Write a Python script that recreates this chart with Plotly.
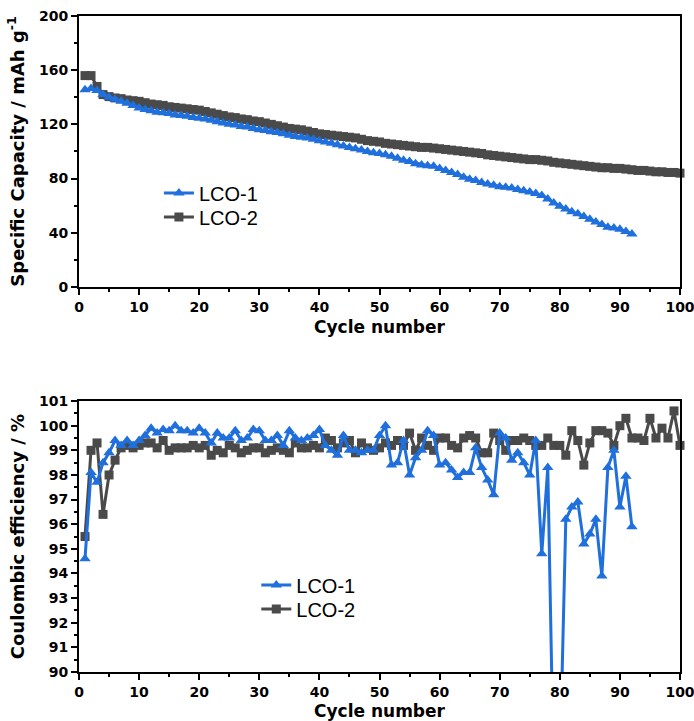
import plotly.graph_objects as go

# ---------------- data ----------------
cycles_lco1 = list(range(1, 93))
cycles_lco2 = list(range(1, 101))

cap_lco1 = [145.5, 146.5, 145, 142, 140, 138.5, 137, 135.5, 134, 132,
            131, 130, 129, 128.5, 128, 127, 126.5, 126, 125, 124.5,
            124, 123, 122, 121, 120, 119.5, 118.5, 118, 117, 116,
            115.5, 114.5, 114, 113, 112, 111, 110.5, 110, 109, 108,
            107, 106, 105, 104, 103, 102, 101, 100, 99, 98.5,
            97.5, 96.5, 95, 93.5, 92.5, 91, 90, 89.5, 89, 87.5,
            86, 84.5, 83, 81, 79.5, 78.5, 77, 76, 75, 74,
            73.5, 73, 72, 71, 70, 69, 67.5, 65, 62, 59.5,
            57.5, 55.5, 54, 52, 50, 48, 46, 44, 43.5, 42.5,
            41, 39]

cap_lco2 = [156, 156, 148, 142, 140.5, 139.5, 139, 138, 137.5, 137,
            136, 135, 134.5, 134, 133, 132.5, 132, 131.5, 131, 130.5,
            129.5, 128.5, 127.5, 126.5, 125.5, 125, 124, 123.5, 122.5, 122,
            121, 120, 119, 118, 117, 116.5, 116, 115, 114, 113,
            112.5, 112, 111.5, 111, 110.5, 110, 109, 108, 107.5, 107,
            106, 105.5, 105, 104.5, 104, 103.5, 103, 103, 102.5, 102,
            101.5, 101, 100.5, 100, 99.5, 99, 98.5, 97.5, 97, 96.5,
            96, 95.5, 95, 94.5, 94, 94, 93.5, 93, 92, 91.5,
            91, 90.5, 90, 89.5, 89, 88.5, 88, 88, 87.5, 87.5,
            87, 86.5, 86, 86, 85.5, 85, 85, 84.5, 84.5, 84]

ce_lco1 = [94.6, 98.1, 97.7, 98.5, 98.9, 99.4, 99.2, 99.4, 99.2, 99.4,
           99.6, 99.9, 99.7, 99.85, 99.8, 100.0, 99.8, 99.8, 99.7, 99.9,
           99.7, 99.3, 99.7, 99.5, 99.5, 99.8, 99.4, 99.5, 99.85, 99.8,
           99.4, 99.4, 99.6, 99.2, 99.8, 99.5, 99.4, 99.5, 99.6, 99.85,
           99.2, 99.0, 98.8, 99.6, 99.0, 99.0, 98.9, 99.0, 99.0, 99.6,
           100.0, 98.4, 98.5, 99.4, 98.0, 98.7, 99.0, 99.8, 99.6, 98.4,
           98.5, 98.2, 97.9, 98.1, 98.1, 99.1, 98.3, 97.8, 97.2, 99.7,
           99.5, 98.6, 98.9, 98.5, 98.0, 99.4, 94.8, 98.3, 85.5, 86.0,
           96.2, 96.7, 96.9, 95.2, 95.6, 96.2, 93.9, 98.3, 99.0, 96.7,
           97.95, 95.9]

ce_lco2 = [95.5, 99.0, 99.3, 96.4, 98.0, 98.6, 99.1, 99.2, 99.1, 99.2,
           99.3, 99.3, 99.1, 99.4, 99.0, 99.1, 99.1, 99.1, 99.2, 99.1,
           99.2, 98.8, 99.0, 98.9, 99.2, 99.1, 98.9, 99.0, 99.1, 99.1,
           98.9, 99.0, 99.1, 99.0, 98.9, 99.3, 99.1, 99.1, 99.2, 99.1,
           99.5, 99.4, 99.1, 99.3, 99.4, 98.9, 99.3, 99.1, 99.0, 99.1,
           99.3, 99.2, 99.4, 99.2, 99.7, 99.0, 99.5, 99.2, 99.0, 99.5,
           99.5, 99.2, 99.1, 99.5, 99.6, 99.5, 98.9, 98.9, 99.7, 99.4,
           99.0, 99.4, 99.4, 99.5, 99.4, 99.2, 99.2, 99.5, 99.2, 99.2,
           98.8, 99.8, 99.4, 98.4, 99.3, 99.8, 99.8, 99.7, 99.2, 100.0,
           100.3, 99.5, 99.5, 99.4, 100.3, 99.5, 99.9, 99.5, 100.6, 99.2]

x_ticks = [0, 10, 20, 30, 40, 50, 60, 70, 80, 90, 100]
cap_ticks = [0, 40, 80, 120, 160, 200]
ce_ticks = [90, 91, 92, 93, 94, 95, 96, 97, 98, 99, 100, 101]

# ---------------- style ----------------
BLUE = "#1f6fdc"
GRAY = "#4a4a4a"
TICK_FONT = dict(family="DejaVu Sans", size=14, color="black", weight="bold")
XTITLE_FONT = dict(family="DejaVu Sans", size=17, color="black", weight="bold")
YTITLE_FONT = dict(family="DejaVu Sans", size=18, color="black", weight="bold")
LEG_FONT = dict(family="Liberation Sans", size=20, color="black")

fig = go.Figure()


def add(x, y, name, color, symbol, size, xa, ya, leg):
    fig.add_trace(go.Scatter(x=x, y=y, name=name, mode="lines+markers",
                             line=dict(color=color, width=3),
                             marker=dict(symbol=symbol, size=size, color=color),
                             xaxis=xa, yaxis=ya, legend=leg, showlegend=True,
                             cliponaxis=False))


# top panel
add(cycles_lco2, cap_lco2, "LCO-2", GRAY, "square", 9, "x", "y", "legend3")
add(cycles_lco1, cap_lco1, "LCO-1", BLUE, "triangle-up", 10, "x", "y", "legend")
# bottom panel
add(cycles_lco2, ce_lco2, "LCO-2", GRAY, "square", 9, "x2", "y2", "legend4")
add(cycles_lco1, ce_lco1, "LCO-1", BLUE, "triangle-up", 10, "x2", "y2", "legend2")

common_x = dict(range=[0, 100], tickvals=x_ticks, ticks="outside", ticklen=6, tickwidth=2,
                tickcolor="black", showline=True, linewidth=2, linecolor="black", mirror=True,
                showgrid=False, zeroline=False, tickfont=TICK_FONT, automargin=False,
                ticklabeloverflow="allow",
                minor=dict(dtick=5, ticks="outside", ticklen=3, tickwidth=2, tickcolor="black"),
                title=dict(text="Cycle number", font=XTITLE_FONT, standoff=7))
common_y = dict(ticks="outside", ticklen=6, tickwidth=2, tickcolor="black", showline=True,
                linewidth=2, linecolor="black", mirror=True, showgrid=False, zeroline=False,
                tickfont=TICK_FONT, automargin=False, ticklabeloverflow="allow")

leg_common = dict(xanchor="left", yanchor="middle", font=LEG_FONT, bgcolor="rgba(0,0,0,0)",
                  visible=True)

fig.update_layout(
    width=694, height=721,
    showlegend=True,
    margin=dict(l=79, r=14, t=16, b=49, autoexpand=False),
    paper_bgcolor="white", plot_bgcolor="white",
    xaxis=dict(domain=[0, 1], anchor="y", **common_x),
    yaxis=dict(domain=[0.587, 1], anchor="x", range=[0, 200], tickvals=cap_ticks,
               minor=dict(dtick=20, ticks="outside", ticklen=3, tickwidth=2, tickcolor="black"),
               title=dict(text="Specific Capacity / mAh g<sup>-1</sup>", font=YTITLE_FONT, standoff=10),
               **common_y),
    xaxis2=dict(domain=[0, 1], anchor="y2", **common_x),
    yaxis2=dict(domain=[0, 0.413], anchor="x2", range=[90, 101], tickvals=ce_ticks,
                minor=dict(dtick=0.5, ticks="outside", ticklen=3, tickwidth=2, tickcolor="black"),
                title=dict(text="Coulombic efficiency / %", font=YTITLE_FONT, standoff=10),
                **common_y),
    legend=dict(x=0.133, y=(672 - 193) / 656, **leg_common),
    legend3=dict(x=0.133, y=(672 - 217) / 656, **leg_common),
    legend2=dict(x=0.295, y=(672 - 585) / 656, **leg_common),
    legend4=dict(x=0.295, y=(672 - 609) / 656, **leg_common),
)

fig.write_html("out.html", config={"displayModeBar": False},
               post_script="document.body.style.margin='0';document.body.style.overflow='hidden';")
